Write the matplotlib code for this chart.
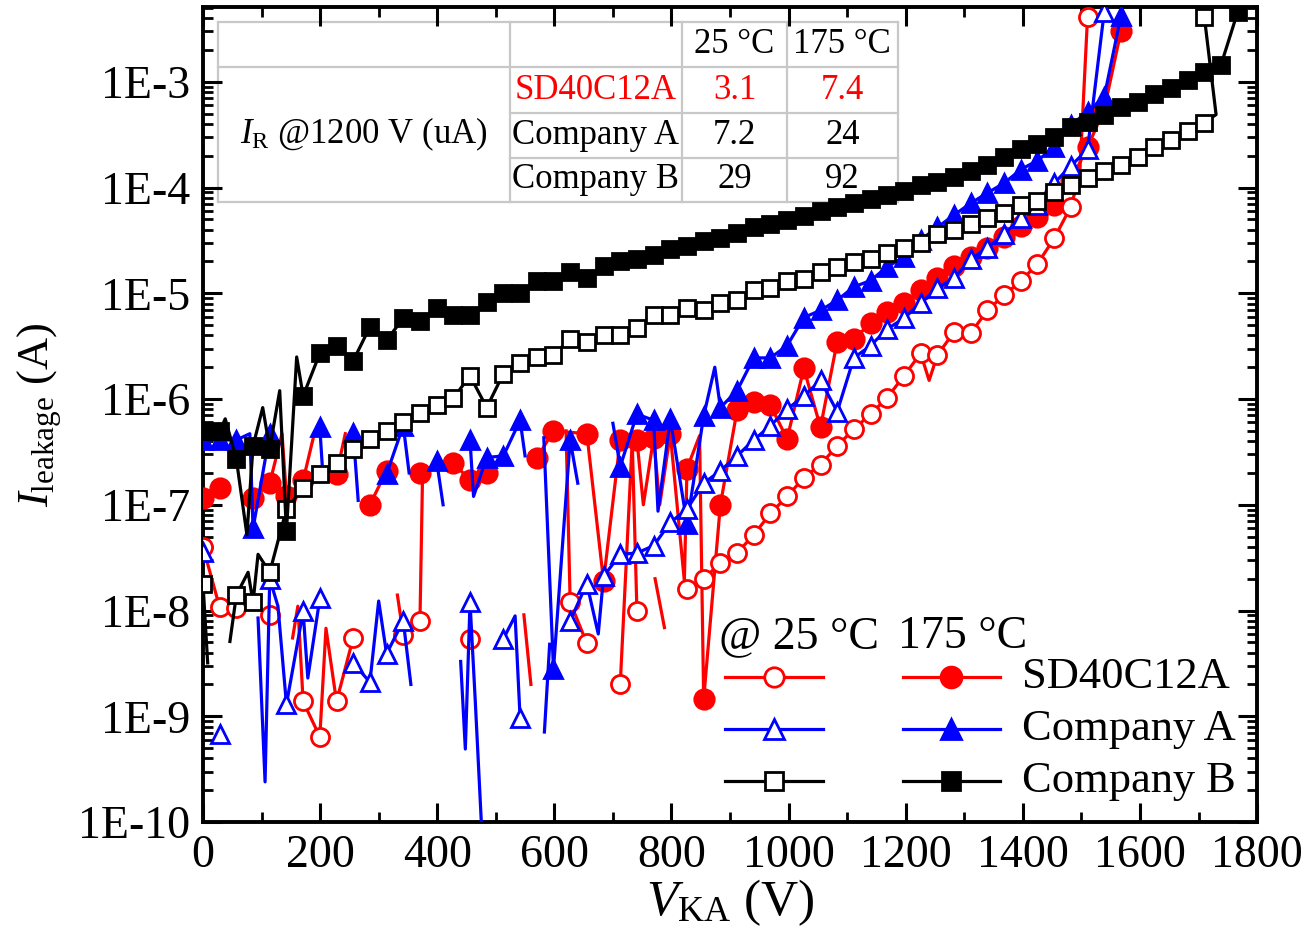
import numpy as np
import matplotlib
matplotlib.use("Agg")
import matplotlib.pyplot as plt
from matplotlib.ticker import MultipleLocator, LogLocator, NullFormatter, FuncFormatter

plt.rcParams['font.family'] = ['Liberation Serif', 'DejaVu Serif']
plt.rcParams['mathtext.fontset'] = 'custom'
plt.rcParams['mathtext.rm'] = 'Liberation Serif'
plt.rcParams['mathtext.it'] = 'Liberation Serif:italic'

nan = np.nan

# ---- data (V, A); off-sweep x values are line-only points ----
sd_cold_x = [0, 28.5, 57, 85.5, 114, 142.5, 153, 162, 171, 199.5, 210, 228, 256.5, 285,
             332, 342, 370.5, 375, 399, 456, 484.5, 548, 560, 590, 620, 627, 655.5, 684,
             712.5, 733, 741, 755, 772, 788, 800, 826.5, 855, 883.5, 912, 940.5, 969,
             997.5, 1026, 1054.5, 1083, 1111.5, 1140, 1168.5, 1197, 1225.5, 1240, 1254,
             1282.5, 1311, 1339.5, 1368, 1396.5, 1425, 1453.5, 1482, 1497, 1510.5]
sd_cold_y = [4.0e-8, 1.07e-8, 1.05e-8, nan, 9.1e-9, nan, 5.5e-9, 1.1e-8, 1.38e-9, 6.4e-10,
             6.8e-9, 1.38e-9, 5.5e-9, nan, 1.4e-8, 5.9e-9, 7.9e-9, 2.0e-7, nan, 5.4e-9, nan,
             9.1e-9, 2.0e-9, nan, 5.0e-7, 1.2e-8, 4.9e-9, nan, 2.0e-9, 4.0e-7, 1.0e-8, nan,
             2.0e-8, 6.9e-9, nan, 1.6e-8, 2.0e-8, 2.8e-8, 3.5e-8, 5.2e-8, 8.3e-8, 1.2e-7,
             1.8e-7, 2.4e-7, 3.6e-7, 5.2e-7, 7.2e-7, 1.03e-6, 1.66e-6, 2.7e-6, 1.5e-6,
             2.6e-6, 4.3e-6, 4.2e-6, 6.9e-6, 9.6e-6, 1.3e-5, 1.9e-5, 3.3e-5, 6.6e-5,
             1.3e-4, 4.1e-3]

sd_hot_x = [0, 28.5, 57, 85.5, 114, 135, 142.5, 171, 190, 199.5, 228, 243, 256.5, 285,
            313.5, 342, 370.5, 399, 427.5, 456, 484.5, 513, 570, 598.5, 655.5, 684, 712.5,
            741, 752, 769.5, 780, 798, 822, 826.5, 848, 855, 883.5, 912, 940.5, 969, 997.5,
            1026, 1054.5, 1083, 1111.5, 1140, 1168.5, 1197, 1225.5, 1254, 1282.5, 1311,
            1339.5, 1368, 1396.5, 1425, 1453.5, 1482, 1510.5, 1539, 1567.5]
sd_hot_y = [1.15e-7, 1.45e-7, nan, 1.15e-7, 1.6e-7, 4.7e-7, 1.2e-7, 1.7e-7, 4.7e-7, nan,
            1.95e-7, 4.7e-7, nan, 1.0e-7, 2.1e-7, nan, 2.0e-7, nan, 2.5e-7, 1.7e-7, 2.0e-7,
            nan, 2.75e-7, 5.0e-7, 4.7e-7, 1.9e-8, 4.1e-7, 4.1e-7, 1.0e-7, 4.3e-7, 1.0e-7,
            4.7e-7, 1.9e-8, 2.2e-7, 4.5e-7, 1.45e-9, 1.0e-7, 7.8e-7, 9.3e-7, 8.7e-7,
            4.2e-7, 1.95e-6, 5.4e-7, 3.5e-6, 3.7e-6, 5.2e-6, 6.6e-6, 8.1e-6, 1.07e-5,
            1.4e-5, 1.8e-5, 2.2e-5, 2.7e-5, 3.4e-5, 4.3e-5, 5.3e-5, 6.8e-5, 1.17e-4,
            2.4e-4, 5.5e-4, 3.0e-3]

a_cold_x = [0, 14, 28.5, 57, 94, 106, 114, 128, 142.5, 171, 179, 199.5, 228, 256.5, 285,
            300, 313.5, 342, 355, 370.5, 440, 448, 456, 465, 478, 484.5, 513, 533, 541.5,
            570, 583, 592, 598.5, 627, 655.5, 675, 684, 712.5, 741, 769.5, 798, 826.5, 855,
            883.5, 912, 940.5, 969, 997.5, 1026, 1054.5, 1083, 1111.5, 1140, 1168.5, 1197,
            1225.5, 1254, 1282.5, 1311, 1339.5, 1368, 1396.5, 1425, 1453.5, 1482, 1510.5,
            1539]
a_cold_y = [3.6e-8, nan, 6.8e-10, nan, 8.5e-9, 2.4e-10, 2.0e-8, 1.1e-8, 1.3e-9, 9.8e-9,
            2.3e-9, 1.3e-8, nan, 3.2e-9, 2.1e-9, 1.23e-8, 3.9e-9, 8.0e-9, 2.0e-9, nan,
            3.3e-9, 4.9e-10, 1.2e-8, 1.38e-9, 5e-11, nan, 5.4e-9, 8.9e-9, 9.6e-10, nan,
            7.1e-10, 4.8e-9, nan, 8.0e-9, 1.8e-8, 6.0e-9, 2.1e-8, 3.4e-8, 3.5e-8, 4.1e-8,
            6.8e-8, 9.1e-8, 1.6e-7, 2.1e-7, 2.9e-7, 4.1e-7, 5.6e-7, 8.0e-7, 1.07e-6, 1.5e-6,
            7.6e-7, 2.45e-6, 3.2e-6, 4.6e-6, 5.8e-6, 8.1e-6, 1.12e-5, 1.39e-5, 2.1e-5,
            2.7e-5, 3.6e-5, 5.2e-5, 6.9e-5, 1.1e-4, 1.6e-4, 2.3e-4, 4.6e-3]

a_hot_x = [0, 28.5, 57, 80, 85.5, 114, 142.5, 199.5, 205, 228, 256.5, 265, 285, 313.5, 342,
           352, 370.5, 399, 410, 427.5, 456, 462, 484.5, 513, 541.5, 550, 570, 582, 598.5,
           627, 640, 655.5, 700, 712.5, 741, 769.5, 777, 798, 826.5, 855, 874, 883.5, 912,
           940.5, 969, 997.5, 1026, 1054.5, 1083, 1111.5, 1140, 1168.5, 1197, 1225.5, 1254,
           1282.5, 1311, 1339.5, 1368, 1396.5, 1425, 1453.5, 1482, 1510.5, 1539, 1567.5]
a_hot_y = [4.1e-7, 4.1e-7, 4.1e-7, 4.7e-7, 6.0e-8, 4.7e-7, nan, 5.4e-7, 1.8e-7, nan, 4.8e-7,
           1.1e-7, nan, 1.95e-7, 5.6e-7, 2.0e-7, nan, 2.6e-7, 1.0e-7, nan, 4.1e-7, 1.2e-7,
           2.8e-7, 2.9e-7, 6.3e-7, 2.9e-7, nan, 4.3e-7, 2.8e-9, 4.1e-7, 1.6e-7, nan, 5.9e-7,
           2.3e-7, 7.2e-7, 6.3e-7, 8.7e-8, 6.5e-7, 6.6e-8, 6.9e-7, 2.0e-6, 8.3e-7, 1.2e-6,
           2.45e-6, 2.45e-6, 3.2e-6, 5.9e-6, 6.9e-6, 8.6e-6, 1.15e-5, 1.32e-5, 1.78e-5,
           2.2e-5, 3.2e-5, 4.2e-5, 5.5e-5, 7.1e-5, 8.9e-5, 1.1e-4, 1.48e-4, 1.8e-4, 2.4e-4,
           3.9e-4, 5.2e-4, 7.2e-4, 4.2e-3]

b_cold_x = [0, 8, 28.5, 46, 57, 77, 85.5, 94, 114, 142.5, 171, 199.5, 228, 256.5, 285, 313.5,
            342, 370.5, 399, 427.5, 456, 484.5, 513, 541.5, 570, 598.5, 627, 655.5, 684,
            712.5, 741, 769.5, 798, 826.5, 855, 883.5, 912, 940.5, 969, 997.5, 1026, 1054.5,
            1083, 1111.5, 1140, 1168.5, 1197, 1225.5, 1254, 1282.5, 1311, 1339.5, 1368,
            1396.5, 1425, 1453.5, 1482, 1510.5, 1539, 1567.5, 1596, 1624.5, 1653, 1681.5,
            1710, 1730, 1710]
b_cold_y = [1.8e-8, 3.2e-9, nan, 5.1e-9, 1.4e-8, 2.3e-8, 1.2e-8, 3.4e-8, 2.3e-8, 9.1e-8,
            1.45e-7, 1.95e-7, 2.5e-7, 3.4e-7, 4.2e-7, 5.0e-7, 6.0e-7, 7.3e-7, 8.7e-7, 1.02e-6,
            1.66e-6, 8.3e-7, 1.74e-6, 2.2e-6, 2.5e-6, 2.6e-6, 3.7e-6, 3.5e-6, 4.0e-6, 4.0e-6,
            4.7e-6, 6.2e-6, 6.2e-6, 7.2e-6, 6.9e-6, 8.1e-6, 8.6e-6, 1.07e-5, 1.12e-5, 1.32e-5,
            1.38e-5, 1.58e-5, 1.78e-5, 1.97e-5, 2.1e-5, 2.4e-5, 2.7e-5, 3.0e-5, 3.6e-5,
            4.0e-5, 4.5e-5, 5.2e-5, 5.8e-5, 6.8e-5, 7.4e-5, 9.1e-5, 1.05e-4, 1.23e-4,
            1.42e-4, 1.63e-4, 1.95e-4, 2.4e-4, 2.8e-4, 3.4e-4, 4.1e-4, 4.9e-4, 4.1e-3]

b_hot_x = [0, 28.5, 38, 57, 75, 85.5, 102, 114, 131, 142.5, 160, 171, 199.5, 228, 256.5, 285,
           313.5, 342, 370.5, 399, 427.5, 456, 484.5, 513, 541.5, 570, 598.5, 627, 655.5,
           684, 712.5, 741, 769.5, 798, 826.5, 855, 883.5, 912, 940.5, 969, 997.5, 1026,
           1054.5, 1083, 1111.5, 1140, 1168.5, 1197, 1225.5, 1254, 1282.5, 1311, 1339.5,
           1368, 1396.5, 1425, 1453.5, 1482, 1510.5, 1539, 1567.5, 1596, 1624.5, 1653,
           1681.5, 1710, 1738.5, 1767]
b_hot_y = [5.0e-7, 5.0e-7, 6.5e-7, 2.7e-7, 5.2e-8, 3.6e-7, 8.3e-7, 3.4e-7, 1.2e-6, 5.6e-8,
           2.5e-6, 1.07e-6, 2.7e-6, 3.2e-6, 2.3e-6, 4.8e-6, 3.6e-6, 5.8e-6, 5.5e-6, 7.2e-6,
           6.2e-6, 6.2e-6, 8.2e-6, 1.0e-5, 1.0e-5, 1.3e-5, 1.3e-5, 1.6e-5, 1.4e-5, 1.8e-5,
           2.0e-5, 2.1e-5, 2.3e-5, 2.6e-5, 2.8e-5, 3.1e-5, 3.3e-5, 3.7e-5, 4.2e-5, 4.5e-5,
           4.9e-5, 5.4e-5, 6.0e-5, 6.6e-5, 7.1e-5, 7.8e-5, 8.5e-5, 9.3e-5, 1.05e-4, 1.13e-4,
           1.26e-4, 1.42e-4, 1.63e-4, 1.95e-4, 2.3e-4, 2.6e-4, 3.0e-4, 3.7e-4, 4.2e-4,
           4.9e-4, 5.8e-4, 6.5e-4, 7.6e-4, 8.8e-4, 1.05e-3, 1.25e-3, 1.45e-3, 4.6e-3]

# inset table
tbl_cols = ['25 °C', '175 °C']
tbl_rows = ['SD40C12A', 'Company A', 'Company B']
tbl_vals = [['3.1', '7.4'], ['7.2', '24'], ['29', '92']]
tbl_title = r'$I_{\mathrm{R}}$ @1200 V (uA)'

# marker only on the regular sweep points
sweep = {round(28.5 * k, 1) for k in range(70)}

RED, BLUE, BLACK = '#ff0000', '#0000ff', '#000000'
styles = {
    'sd_cold': dict(color=RED, marker='o', mfc='white', ms=13),
    'sd_hot': dict(color=RED, marker='o', mfc=RED, ms=14),
    'a_cold': dict(color=BLUE, marker='^', mfc='white', ms=13),
    'a_hot': dict(color=BLUE, marker='^', mfc=BLUE, ms=13),
    'b_cold': dict(color=BLACK, marker='s', mfc='white', ms=12),
    'b_hot': dict(color=BLACK, marker='s', mfc=BLACK, ms=12),
}
series = [('sd_hot', sd_hot_x, sd_hot_y), ('sd_cold', sd_cold_x, sd_cold_y),
          ('a_hot', a_hot_x, a_hot_y), ('a_cold', a_cold_x, a_cold_y),
          ('b_cold', b_cold_x, b_cold_y), ('b_hot', b_hot_x, b_hot_y)]

fig = plt.figure(figsize=(13.13, 9.30), dpi=100)
ax = fig.add_axes([0.1546, 0.1161, 0.8028, 0.8764])

for name, xs, ys in series:
    st = styles[name]
    mk = [i for i, v in enumerate(xs) if v in sweep]
    ax.plot(xs, ys, color=st['color'], lw=2.3, marker=st['marker'], ms=st['ms'],
            mfc=st['mfc'], mec=st['color'], mew=2.0, markevery=mk, zorder=3)

ax.set_yscale('log')
ax.set_xlim(0, 1800)
ax.set_ylim(1e-10, 5.1e-3)
ax.xaxis.set_major_locator(MultipleLocator(200))
ax.xaxis.set_minor_locator(MultipleLocator(100))
ax.yaxis.set_major_locator(LogLocator(base=10, numticks=20))
ax.yaxis.set_minor_locator(LogLocator(base=10, subs=np.arange(2, 10), numticks=20))
ax.yaxis.set_minor_formatter(NullFormatter())
ax.yaxis.set_major_formatter(FuncFormatter(lambda v, p: '1E%d' % int(round(np.log10(v)))))
ax.tick_params(which='both', direction='in', top=True, right=True, labelsize=33)
ax.tick_params(which='major', length=14, width=2.2, pad=9)
ax.tick_params(which='minor', length=7, width=2.0)
for s in ax.spines.values():
    s.set_linewidth(2.8)

ax.set_xlabel(r'$V_{\mathrm{KA}}$ (V)', fontsize=37, labelpad=0)
ax.set_ylabel(r'$I_{\mathrm{leakage}}$ (A)', fontsize=32, labelpad=10)

# table drawn in axes fraction
tr = ax.transAxes
gray = '#c8c8c8'
xl, xc1, xc2, xc3, xr = 0.0142, 0.291, 0.4545, 0.554, 0.659
yt, y1, y2, y3, yb = 0.9816, 0.926, 0.870, 0.815, 0.761
for xa, xb, yy in [(xl, xr, yt), (xl, xr, y1), (xc1, xr, y2), (xc1, xr, y3), (xl, xr, yb)]:
    ax.plot([xa, xb], [yy, yy], transform=tr, color=gray, lw=1.6, zorder=1, clip_on=False)
for xx in [xl, xc1, xc2, xc3, xr]:
    ax.plot([xx, xx], [yt, yb], transform=tr, color=gray, lw=1.6, zorder=1, clip_on=False)
col_c = [(xc2 + xc3) / 2, (xc3 + xr) / 2]
row_c = [(y1 + y2) / 2, (y2 + y3) / 2, (y3 + yb) / 2]
for j, c in enumerate(tbl_cols):
    ax.text(col_c[j], (yt + y1) / 2, c, transform=tr, ha='center', va='center', fontsize=25)
for i, r in enumerate(tbl_rows):
    col = RED if i == 0 else BLACK
    ax.text((xc1 + xc2) / 2, row_c[i], r, transform=tr, ha='center', va='center',
            fontsize=25, color=col)
    for j in range(2):
        ax.text(col_c[j], row_c[i], tbl_vals[i][j], transform=tr, ha='center',
                va='center', fontsize=25, color=col)
ax.text((xl + xc1) / 2, (y1 + yb) / 2, tbl_title, transform=tr, ha='center', va='center',
        fontsize=25)

# custom legend
ax.text(0.490, 0.227, '@ 25 °C', transform=tr, ha='left', va='center', fontsize=33)
ax.text(0.659, 0.227, '175 °C', transform=tr, ha='left', va='center', fontsize=33)
leg_rows = [('SD40C12A', 'sd_cold', 'sd_hot'), ('Company A', 'a_cold', 'a_hot'),
            ('Company B', 'b_cold', 'b_hot')]
for (lab, c_name, h_name), yy in zip(leg_rows, [0.178, 0.114, 0.050]):
    for nm, xa, xb in [(c_name, 0.495, 0.588), (h_name, 0.664, 0.756)]:
        st = styles[nm]
        ax.plot([xa, xb], [yy, yy], transform=tr, color=st['color'], lw=2.3, zorder=5)
        ax.plot([(xa + xb) / 2], [yy], transform=tr, color=st['color'], marker=st['marker'],
                ms=st['ms'] + 1, mfc=st['mfc'], mec=st['color'], mew=2.0, zorder=6)
    ax.text(0.777, yy, lab, transform=tr, ha='left', va='center', fontsize=32)

fig.savefig('out.png', dpi=100)
